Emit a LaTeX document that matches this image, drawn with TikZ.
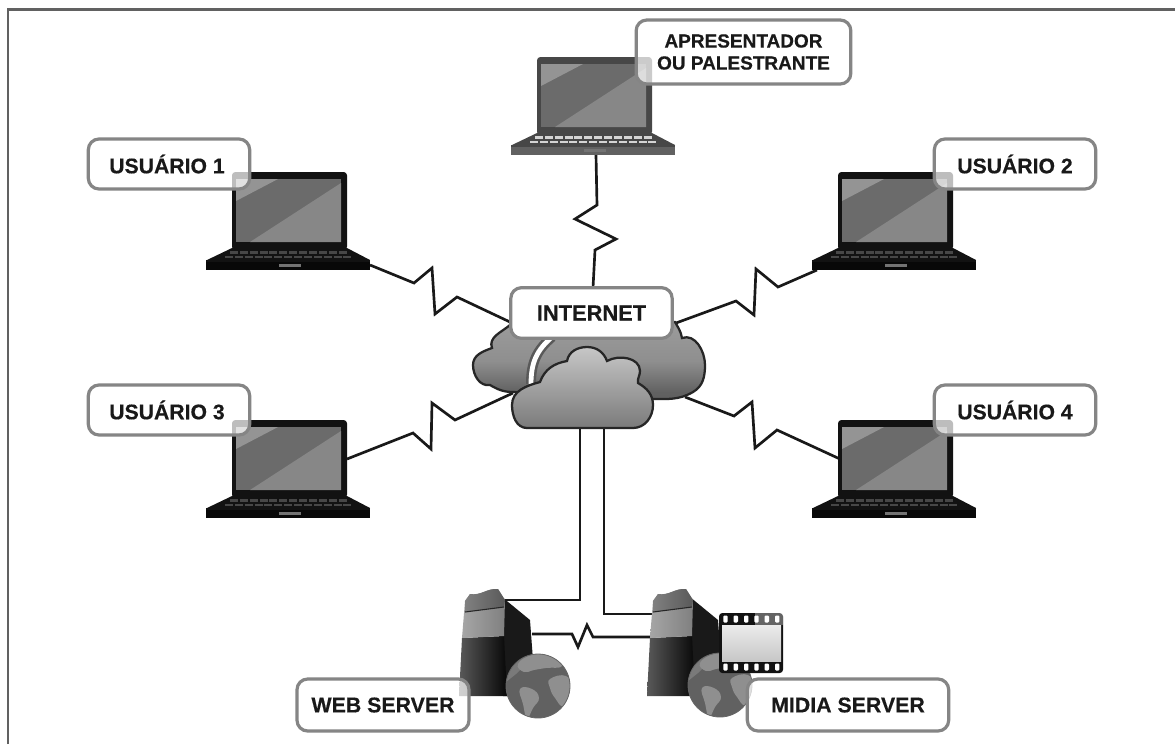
\documentclass[tikz,border=0pt]{standalone}
\usepackage{fontspec}
\setmainfont[BoldFeatures={FakeBold=0.35}]{Liberation Sans}
\definecolor{ink}{gray}{0.1}
\definecolor{lblborder}{gray}{0.52}
\pgfdeclareverticalshading{cloudback}{100bp}{
  color(0bp)=(black!66); color(30bp)=(black!62); color(50bp)=(black!44); color(70bp)=(black!40); color(100bp)=(black!50)}
\tikzset{
  px/.style={x=0.75pt,y=-0.75pt},
  lbl/.style={draw=lblborder,line width=2.4pt,rounded corners=8pt,fill=white,fill opacity=.72,text opacity=1,
    text=ink,font=\bfseries,align=center,inner sep=0pt},
  wire/.style={draw=ink,line width=2pt,line join=miter,rounded corners=0pt},
  cloudline/.style={draw=black!85,line width=1.7pt},
  holder/.style={inner sep=0pt,draw=none,fill=none}
}
% name, x, y, body gray, key gray, slab gray
\newcommand{\laptopat}[6]{%
\begin{scope}[shift={(#2,#3)}]
  \node[holder,minimum width=123pt,minimum height=73.5pt] (#1) at (56,49) {};
  \fill[black!#4,rounded corners=2.5pt] (0,0) rectangle (115,78);
  \fill[black!58] (4,7) rectangle (109,70);
  \fill[black!47] (18,70) -- (109,11) -- (109,70) -- cycle;
  \fill[black!42] (4,7) -- (46,7) -- (4,29) -- cycle;
  \fill[black!#4] (0,76) -- (115,76) -- (138,88) -- (-25,88) -- cycle;
  \begin{scope}
    \clip (0,76) -- (115,76) -- (138,88) -- (-25,88) -- cycle;
    \draw[black!#5,line width=2.2pt,dash pattern=on 6pt off 1.4pt] (-2,80.5) -- (116,80.5);
    \draw[black!#5,line width=2.2pt,dash pattern=on 6pt off 1.4pt] (-7,85) -- (121,85);
  \end{scope}
  \fill[black!#6] (-26,88) rectangle (138,98);
  \fill[black!#4] (-26,88) rectangle (138,90);
  \fill[black!55] (47,92) rectangle (69,95);
\end{scope}}
% name, x shift
\newcommand{\towerat}[2]{%
\begin{scope}[shift={(#2,0)}]
  \node[holder,minimum width=56pt,minimum height=80pt] (#1) at (497,643) {};
  \fill[black!90] (502,597) -- (530,620) -- (533,660) -- (535,696) -- (503,696) -- cycle;
  \shade[left color=black!65,middle color=black!80,right color=black!97]
     (462,638) -- (504,636) -- (507,696) -- (459,696) -- cycle;
  \shade[left color=black!35,middle color=black!8,right color=black!50]
     (465,601) -- (470,594) to[out=-10,in=175] (498,589) -- (505,600) -- (504,636) -- (462,638) -- cycle;
  \shade[left color=black!50,middle color=black!22,right color=black!65]
     (465,601) -- (470,594) to[out=-10,in=175] (498,589) -- (505,600) -- (504,607) -- (465,612) -- cycle;
  \draw[black!85,line width=.8pt] (465,612) -- (504,607);
\end{scope}}
% centre x, y
\newcommand{\globeat}[2]{%
\begin{scope}[shift={(#1,#2)}]
  \begin{scope}
    \clip (0,0) circle (32);
    \fill[black!62] (-32,-32) rectangle (32,32);
    \fill[black!52] (-32,-32) -- (-2,-32) -- (-22,-12) -- (-32,-4) -- cycle;
    \fill[black!44] plot[smooth cycle,tension=.8] coordinates {(-20,-22) (-6,-31) (12,-31) (24,-20) (8,-18) (-4,-16) (-14,-14)};
    \fill[black!44] plot[smooth cycle,tension=.8] coordinates {(-18,3) (-6,3) (1,12) (-5,22) (-11,32) (-15,18)};
    \fill[black!44] plot[smooth cycle,tension=.8] coordinates {(12,-7) (28,-10) (34,3) (26,20) (17,12) (12,2)};
  \end{scope}
  \draw[black!60,line width=.6pt] (0,0) circle (32);
\end{scope}}
\begin{document}
\begin{tikzpicture}[px]
\useasboundingbox (0,0) rectangle (1175,744);
\fill[white] (0,0) rectangle (1175,744);
\draw[black!62,line width=1.9pt] (8,744) -- (8,9.5) -- (1175,9.5);

% attachment points
\coordinate (pPres) at (596,155);  \coordinate (cPres) at (593,288);
\coordinate (pU1) at (370,265);    \coordinate (cU1) at (510,322);
\coordinate (pU2) at (817,270);    \coordinate (cU2) at (676,323);
\coordinate (pU3) at (347,459);    \coordinate (cU3) at (513,393);
\coordinate (pU4) at (840,459);    \coordinate (cU4) at (685,397);
\coordinate (cWeb) at (580,426);   \coordinate (pWeb) at (505,600);
\coordinate (cMid) at (604,426);   \coordinate (pMid) at (652,614);
\coordinate (pWebR) at (532,634);  \coordinate (pMidL) at (650,637);

% connectors
\draw[wire] (pPres) -- (597,205) -- (575,219) -- (616,239) -- (595,250) -- (cPres);
\draw[wire] (pU1) -- (414,283) -- (432,268) -- (435,314) -- (457,297) -- (cU1);
\draw[wire] (pU2) -- (778,287) -- (756,269) -- (754,315) -- (736,301) -- (cU2);
\draw[wire] (pU3) -- (413,433) -- (431,449) -- (432,403) -- (455,420) -- (cU3);
\draw[wire] (pU4) -- (777,430) -- (755,448) -- (752,402) -- (734,416) -- (cU4);
\draw[wire] (cWeb) -- (580,600) -- (pWeb);
\draw[wire] (cMid) -- (604,614) -- (pMid);
\draw[wire] (pWebR) -- (572,634) -- (578,647) -- (587,625) -- (593,637) -- (pMidL);

% back cloud
\draw[cloudline,shading=cloudback]
  (513,392) to[out=180,in=-30] (490,385) to[out=190,in=270] (473,365)
  to[out=90,in=200] (492,348) to[out=110,in=220] (510,325)
  -- (675,322) to[out=-60,in=100] (682,338) to[out=20,in=90] (705,365)
  to[out=270,in=30] (693,392) to[out=210,in=0] (652,399) -- cycle;
\draw[black!65,line width=7.5pt] (531,384) .. controls (531,362) and (537,350) .. (552,337);
\draw[white,line width=3.6pt] (531,384) .. controls (531,362) and (537,350) .. (552,337);

% front cloud
\node[holder,minimum width=106pt,minimum height=61pt] (cloud) at (582,388) {};
\draw[cloudline,top color=black!22,bottom color=black!52]
  (527,428) to[out=180,in=270] (512,405) to[out=90,in=195] (540,382)
  to[out=70,in=190] (567,361) to[out=80,in=180] (587,347) to[out=0,in=110] (607,361)
  to[out=30,in=90] (640,371) to[out=270,in=100] (638,383)
  to[out=-30,in=90] (653,405) to[out=270,in=0] (633,428) -- cycle;

% laptops
\laptopat{presenter}{537}{57}{72}{17}{62}
\laptopat{user1}{232}{172}{93}{72}{97}
\laptopat{user2}{838}{172}{93}{72}{97}
\laptopat{user3}{232}{420}{93}{72}{97}
\laptopat{user4}{838}{420}{93}{72}{97}

% servers
\towerat{webserver}{0}
\globeat{538}{686}
\towerat{midiaserver}{188}
\globeat{720}{685}

% film strip
\node[holder,minimum width=48pt,minimum height=45pt] (film) at (751,643) {};
\fill[black!93,rounded corners=2.5pt] (719,613) rectangle (783,673);
\shade[top color=black!8,bottom color=black!22] (722,625) rectangle (781,661);
\foreach \hx in {725.5,735.8,746.2,756.5,766.8,777.2}{
  \fill[white,rounded corners=.8pt] (\hx-2.2,615.5) rectangle (\hx+2.2,622.5);
  \fill[white,rounded corners=.8pt] (\hx-2.2,663.5) rectangle (\hx+2.2,670.5);
}
\fill[white,opacity=.35] (755,613) rectangle (783,625);

% labels
\node[lbl,fill opacity=1,minimum width=121pt,minimum height=38pt,font=\bfseries\fontsize{16.4}{18}\selectfont] (internet) at (591.5,313) {INTERNET};
\node[lbl,minimum width=121pt,minimum height=37.5pt,font=\bfseries\fontsize{15.9}{18}\selectfont] (lblU1) at (169,164) {\hspace*{-3pt}USUÁRIO 1};
\node[lbl,minimum width=121pt,minimum height=37.5pt,font=\bfseries\fontsize{15.9}{18}\selectfont] (lblU2) at (1015,164) {USUÁRIO 2};
\node[lbl,minimum width=121pt,minimum height=37.5pt,font=\bfseries\fontsize{15.9}{18}\selectfont] (lblU3) at (169,410) {\hspace*{-3pt}USUÁRIO 3};
\node[lbl,minimum width=121pt,minimum height=37.5pt,font=\bfseries\fontsize{15.9}{18}\selectfont] (lblU4) at (1015,410) {USUÁRIO 4};
\node[lbl,minimum width=161pt,minimum height=48pt,font=\bfseries\fontsize{14.25}{16.5}\selectfont] (lblPres) at (743.5,52) {APRESENTADOR\\OU PALESTRANTE};
\node[lbl,minimum width=129pt,minimum height=39pt,font=\bfseries\fontsize{16}{18}\selectfont] (lblWeb) at (383,705) {WEB SERVER};
\node[lbl,minimum width=151pt,minimum height=39pt,font=\bfseries\fontsize{16}{18}\selectfont] (lblMidia) at (848,705) {MIDIA SERVER};
\end{tikzpicture}
\end{document}
